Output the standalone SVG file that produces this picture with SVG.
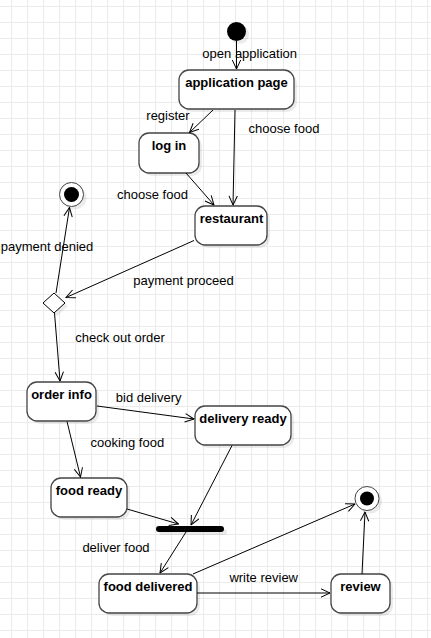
<svg xmlns="http://www.w3.org/2000/svg" width="431" height="638" viewBox="0 0 431 638">
  <defs>
    <pattern id="grid" patternUnits="userSpaceOnUse" x="11" y="6" width="16" height="16">
      <path d="M0 0.5 H16 M0.5 0 V16" stroke="#ebebeb" stroke-width="1" fill="none"/>
    </pattern>
    <marker id="arr" viewBox="0 0 10 10" refX="9.5" refY="5" markerWidth="10" markerHeight="10" markerUnits="userSpaceOnUse" orient="auto">
      <path d="M0.5,0.8 L9.5,5 L0.5,9.2" fill="none" stroke="#000" stroke-width="1"/>
    </marker>
  </defs>
  <style>
    .state { fill: #fff; stroke: #444; stroke-width: 1.3; }
    .shadow { fill: #000; opacity: 0.08; }
    .name { font-family: "Liberation Sans", Arial, sans-serif; font-size: 13px; font-weight: bold; fill: #000; text-anchor: middle; }
    .lbl { font-family: "Liberation Sans", Arial, sans-serif; font-size: 13px; fill: #000; text-anchor: middle; }
    .edge { fill: none; stroke: #000; stroke-width: 1; marker-end: url(#arr); }
  </style>
  <rect width="431" height="638" fill="#fff"/>
  <rect width="431" height="638" fill="url(#grid)"/>

  <g id="start">
    <circle cx="239.5" cy="34.5" r="9.5" class="shadow"/>
    <circle cx="236.5" cy="31.5" r="9.5" fill="#000"/>
  </g>
  <g id="application-page">
    <rect x="182" y="73" width="115" height="39" rx="10" class="shadow"/>
    <rect x="179" y="70" width="115" height="39" rx="10" class="state"/>
    <text x="236.5" y="87" class="name">application page</text>
  </g>
  <g id="log-in">
    <rect x="142" y="136" width="60" height="40" rx="10" class="shadow"/>
    <rect x="139" y="133" width="60" height="40" rx="10" class="state"/>
    <text x="169" y="150" class="name">log in</text>
  </g>
  <g id="restaurant">
    <rect x="198" y="209" width="72" height="39" rx="10" class="shadow"/>
    <rect x="195" y="206" width="72" height="39" rx="10" class="state"/>
    <text x="231.5" y="223" class="name">restaurant</text>
  </g>
  <g id="end-denied">
    <circle cx="74.5" cy="197.5" r="12" class="shadow"/>
    <circle cx="71.5" cy="194.5" r="12" fill="#fff" stroke="#444" stroke-width="1"/>
    <circle cx="71.5" cy="194.5" r="7.5" fill="#000"/>
  </g>
  <g id="decision">
    <polygon points="57,296 68,306 57,316 46,306" class="shadow"/>
    <polygon points="54,293 65,303 54,313 43,303" fill="#fff" stroke="#000" stroke-width="1"/>
  </g>
  <g id="order-info">
    <rect x="30" y="385" width="69" height="39" rx="10" class="shadow"/>
    <rect x="27" y="382" width="69" height="39" rx="10" class="state"/>
    <text x="61.5" y="399" class="name">order info</text>
  </g>
  <g id="delivery-ready">
    <rect x="198" y="409" width="96" height="39" rx="10" class="shadow"/>
    <rect x="195" y="406" width="96" height="39" rx="10" class="state"/>
    <text x="243" y="423" class="name">delivery ready</text>
  </g>
  <g id="food-ready">
    <rect x="54" y="481" width="76" height="39" rx="10" class="shadow"/>
    <rect x="51" y="478" width="76" height="39" rx="10" class="state"/>
    <text x="89" y="495" class="name">food ready</text>
  </g>
  <g id="join-bar">
    <rect x="159" y="529" width="68" height="6" rx="3" class="shadow"/>
    <rect x="156" y="526" width="68" height="6" rx="3" fill="#000"/>
  </g>
  <g id="food-delivered">
    <rect x="102" y="577" width="98" height="39" rx="10" class="shadow"/>
    <rect x="99" y="574" width="98" height="39" rx="10" class="state"/>
    <text x="148" y="591" class="name">food delivered</text>
  </g>
  <g id="review">
    <rect x="334" y="577" width="59" height="39" rx="10" class="shadow"/>
    <rect x="331" y="574" width="59" height="39" rx="10" class="state"/>
    <text x="360.5" y="591" class="name">review</text>
  </g>
  <g id="end-final">
    <circle cx="370" cy="501.5" r="12" class="shadow"/>
    <circle cx="367" cy="498.5" r="12" fill="#fff" stroke="#444" stroke-width="1"/>
    <circle cx="367" cy="498.5" r="7" fill="#000"/>
  </g>

  <g id="connectors">
    <line x1="236.5" y1="41" x2="236.5" y2="69" class="edge"/>
    <line x1="213" y1="110" x2="189.5" y2="132.5" class="edge"/>
    <line x1="235" y1="110" x2="233" y2="205" class="edge"/>
    <line x1="186" y1="173" x2="214" y2="205" class="edge"/>
    <line x1="194" y1="240.5" x2="66" y2="297.5" class="edge"/>
    <line x1="56" y1="293" x2="69.5" y2="207.5" class="edge"/>
    <line x1="54.5" y1="313" x2="60" y2="381" class="edge"/>
    <line x1="97" y1="406" x2="194" y2="419" class="edge"/>
    <line x1="67" y1="421.5" x2="80.5" y2="477" class="edge"/>
    <line x1="127" y1="509" x2="178.5" y2="524" class="edge"/>
    <line x1="232" y1="445.5" x2="191" y2="525" class="edge"/>
    <line x1="186" y1="532" x2="160" y2="573" class="edge"/>
    <line x1="193" y1="574" x2="355" y2="504" class="edge"/>
    <line x1="197" y1="593" x2="330" y2="593" class="edge" stroke="#333"/>
    <line x1="362" y1="574" x2="365" y2="512" class="edge"/>
    <text x="249.7" y="58.3" class="lbl">open application</text>
    <text x="168" y="119.5" class="lbl">register</text>
    <text x="284" y="132.5" class="lbl">choose food</text>
    <text x="152.5" y="198.5" class="lbl">choose food</text>
    <text x="47" y="250.5" class="lbl">payment denied</text>
    <text x="183.5" y="284.5" class="lbl">payment proceed</text>
    <text x="120" y="341.5" class="lbl">check out order</text>
    <text x="148.7" y="401.5" class="lbl">bid delivery</text>
    <text x="127.3" y="446.5" class="lbl">cooking food</text>
    <text x="116" y="551.5" class="lbl">deliver food</text>
    <text x="263.7" y="581.5" class="lbl">write review</text>
  </g>
</svg>
